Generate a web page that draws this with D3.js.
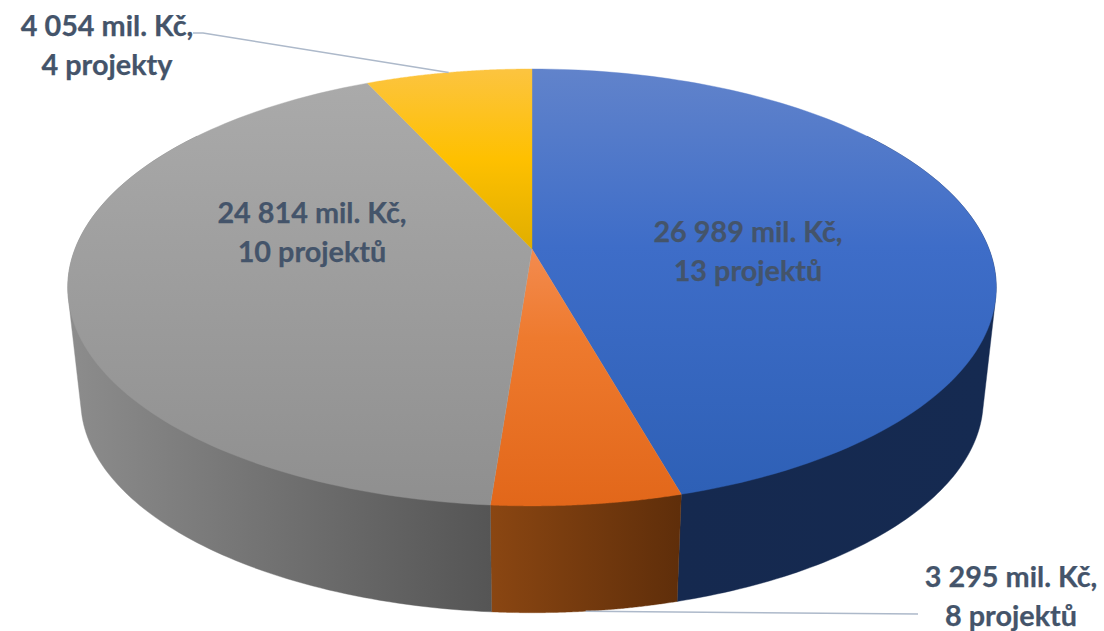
<!DOCTYPE html>
<html>
<head>
<meta charset="utf-8">
<script src="https://cdn.jsdelivr.net/npm/d3@7"></script>
<style>
  html, body { margin: 0; padding: 0; background: #fff; }
  svg { display: block; }
  .label { font-family: Lato, "Open Sans", sans-serif; font-weight: 700; font-size: 28.8px; fill: #44546a; stroke: #44546a; stroke-width: 0.25; text-anchor: middle; }
  .leader { fill: none; stroke: #adb9ca; stroke-width: 1.5; }
</style>
</head>
<body>
<svg width="1104" height="631"></svg>
<script>
// Data
const names = ['modra', 'oranzova', 'seda', 'zluta']
const amounts = [26989, 3295, 24814, 4054]
const amountLabels = ['26 989 mil. Kč,', '3 295 mil. Kč,', '24 814 mil. Kč,', '4 054 mil. Kč,']
const projectLabels = ['13 projektů', '8 projektů', '10 projektů', '4 projekty']

const width = 1104
const height = 631
const svg = d3.select('svg').attr('viewBox', `0 0 ${width} ${height}`)

// perspective of the tilted disc: k shortens the back, b and a are the radii
const cx = 532
const cyTop = 249
const cyBottom = 363
const a = 457
const b = 211.7
const k = 0.176
const bottomScale = 0.972

const project = (angle, cy, s) => {
  const u = Math.sin(angle)
  const v = -Math.cos(angle)
  const w = 1 - k * v
  return [cx + (s * a * u) / w, cy + (s * b * v) / w]
}
const topPoint = angle => project(angle, cyTop, 1)
const bottomPoint = angle => project(angle, cyBottom, bottomScale)

const slices = d3.pie().sort(null).value(d => d)(amounts)
const line = d3.line()
const steps = (from, to) => d3.range(0, 121).map(i => from + ((to - from) * i) / 120)
const midAngle = d => (d.startAngle + d.endAngle) / 2

// gradients
const defs = svg.append('defs')
const gradient = (id, x1, y1, x2, y2, stops) => {
  const g = defs
    .append('linearGradient')
    .attr('id', id)
    .attr('gradientUnits', 'userSpaceOnUse')
    .attr('x1', x1)
    .attr('y1', y1)
    .attr('x2', x2)
    .attr('y2', y2)
  stops.forEach(s => g.append('stop').attr('offset', s[0]).attr('stop-color', s[1]))
}

gradient('top-modra', 0, 69, 0, 494, [[0, '#6183cb'], [0.42, '#3e6dc8'], [1, '#2e60b6']])
gradient('top-oranzova', 0, 249, 0, 505, [[0, '#f38b4f'], [0.35, '#ee7a2e'], [1, '#e2671a']])
gradient('top-seda', 0, 84, 0, 505, [[0, '#aaaaaa'], [1, '#8f8f8f']])
gradient('top-zluta', 0, 69, 0, 249, [[0, '#fcc440'], [0.5, '#fec000'], [1, '#e0ae00']])
gradient('side-modra', 677, 0, 985, 0, [[0, '#15294f'], [1, '#152a51']])
gradient('side-oranzova', 491, 0, 680, 0, [[0, '#8a4612'], [1, '#5f2e0a']])
gradient('side-seda', 72, 0, 491, 0, [[0, '#8c8c8c'], [1, '#555555']])

// side walls, only the part facing the viewer, hull keeps the straight silhouette
const wallFrom = Math.PI * 0.3
const wallTo = Math.PI * 1.7
svg
  .append('g')
  .selectAll('path')
  .data(slices.filter(d => d.endAngle > wallFrom && d.startAngle < wallTo))
  .enter()
  .append('path')
  .attr('d', d => {
    const angles = steps(Math.max(d.startAngle, wallFrom), Math.min(d.endAngle, wallTo))
    return line(d3.polygonHull(angles.map(topPoint).concat(angles.map(bottomPoint)))) + 'Z'
  })
  .attr('fill', d => `url(#side-${names[d.index]})`)
  .attr('stroke', d => `url(#side-${names[d.index]})`)
  .attr('stroke-width', 0.4)

// top of the pie
svg
  .append('g')
  .selectAll('path')
  .data(slices)
  .enter()
  .append('path')
  .attr('d', d => line([[cx, cyTop]].concat(steps(d.startAngle, d.endAngle).map(topPoint))) + 'Z')
  .attr('fill', d => `url(#top-${names[d.index]})`)
  .attr('stroke', d => `url(#top-${names[d.index]})`)
  .attr('stroke-width', 0.4)

// leader lines
svg.append('path').attr('class', 'leader').attr('d', line([[193, 33], [203, 33], topPoint(midAngle(slices[3]))]))
svg.append('path').attr('class', 'leader').attr('d', line([bottomPoint(midAngle(slices[1])), [918, 614]]))

// labels
const labelX = [748, 1011, 312, 107]
const labelY = [242, 587, 223, 36]
const labels = svg
  .append('g')
  .selectAll('text')
  .data(slices)
  .enter()
  .append('text')
  .attr('class', 'label')
labels
  .append('tspan')
  .attr('x', d => labelX[d.index])
  .attr('y', d => labelY[d.index])
  .text(d => amountLabels[d.index])
labels
  .append('tspan')
  .attr('x', d => labelX[d.index])
  .attr('y', d => labelY[d.index] + 38.5)
  .text(d => projectLabels[d.index])
</script>
</body>
</html>
